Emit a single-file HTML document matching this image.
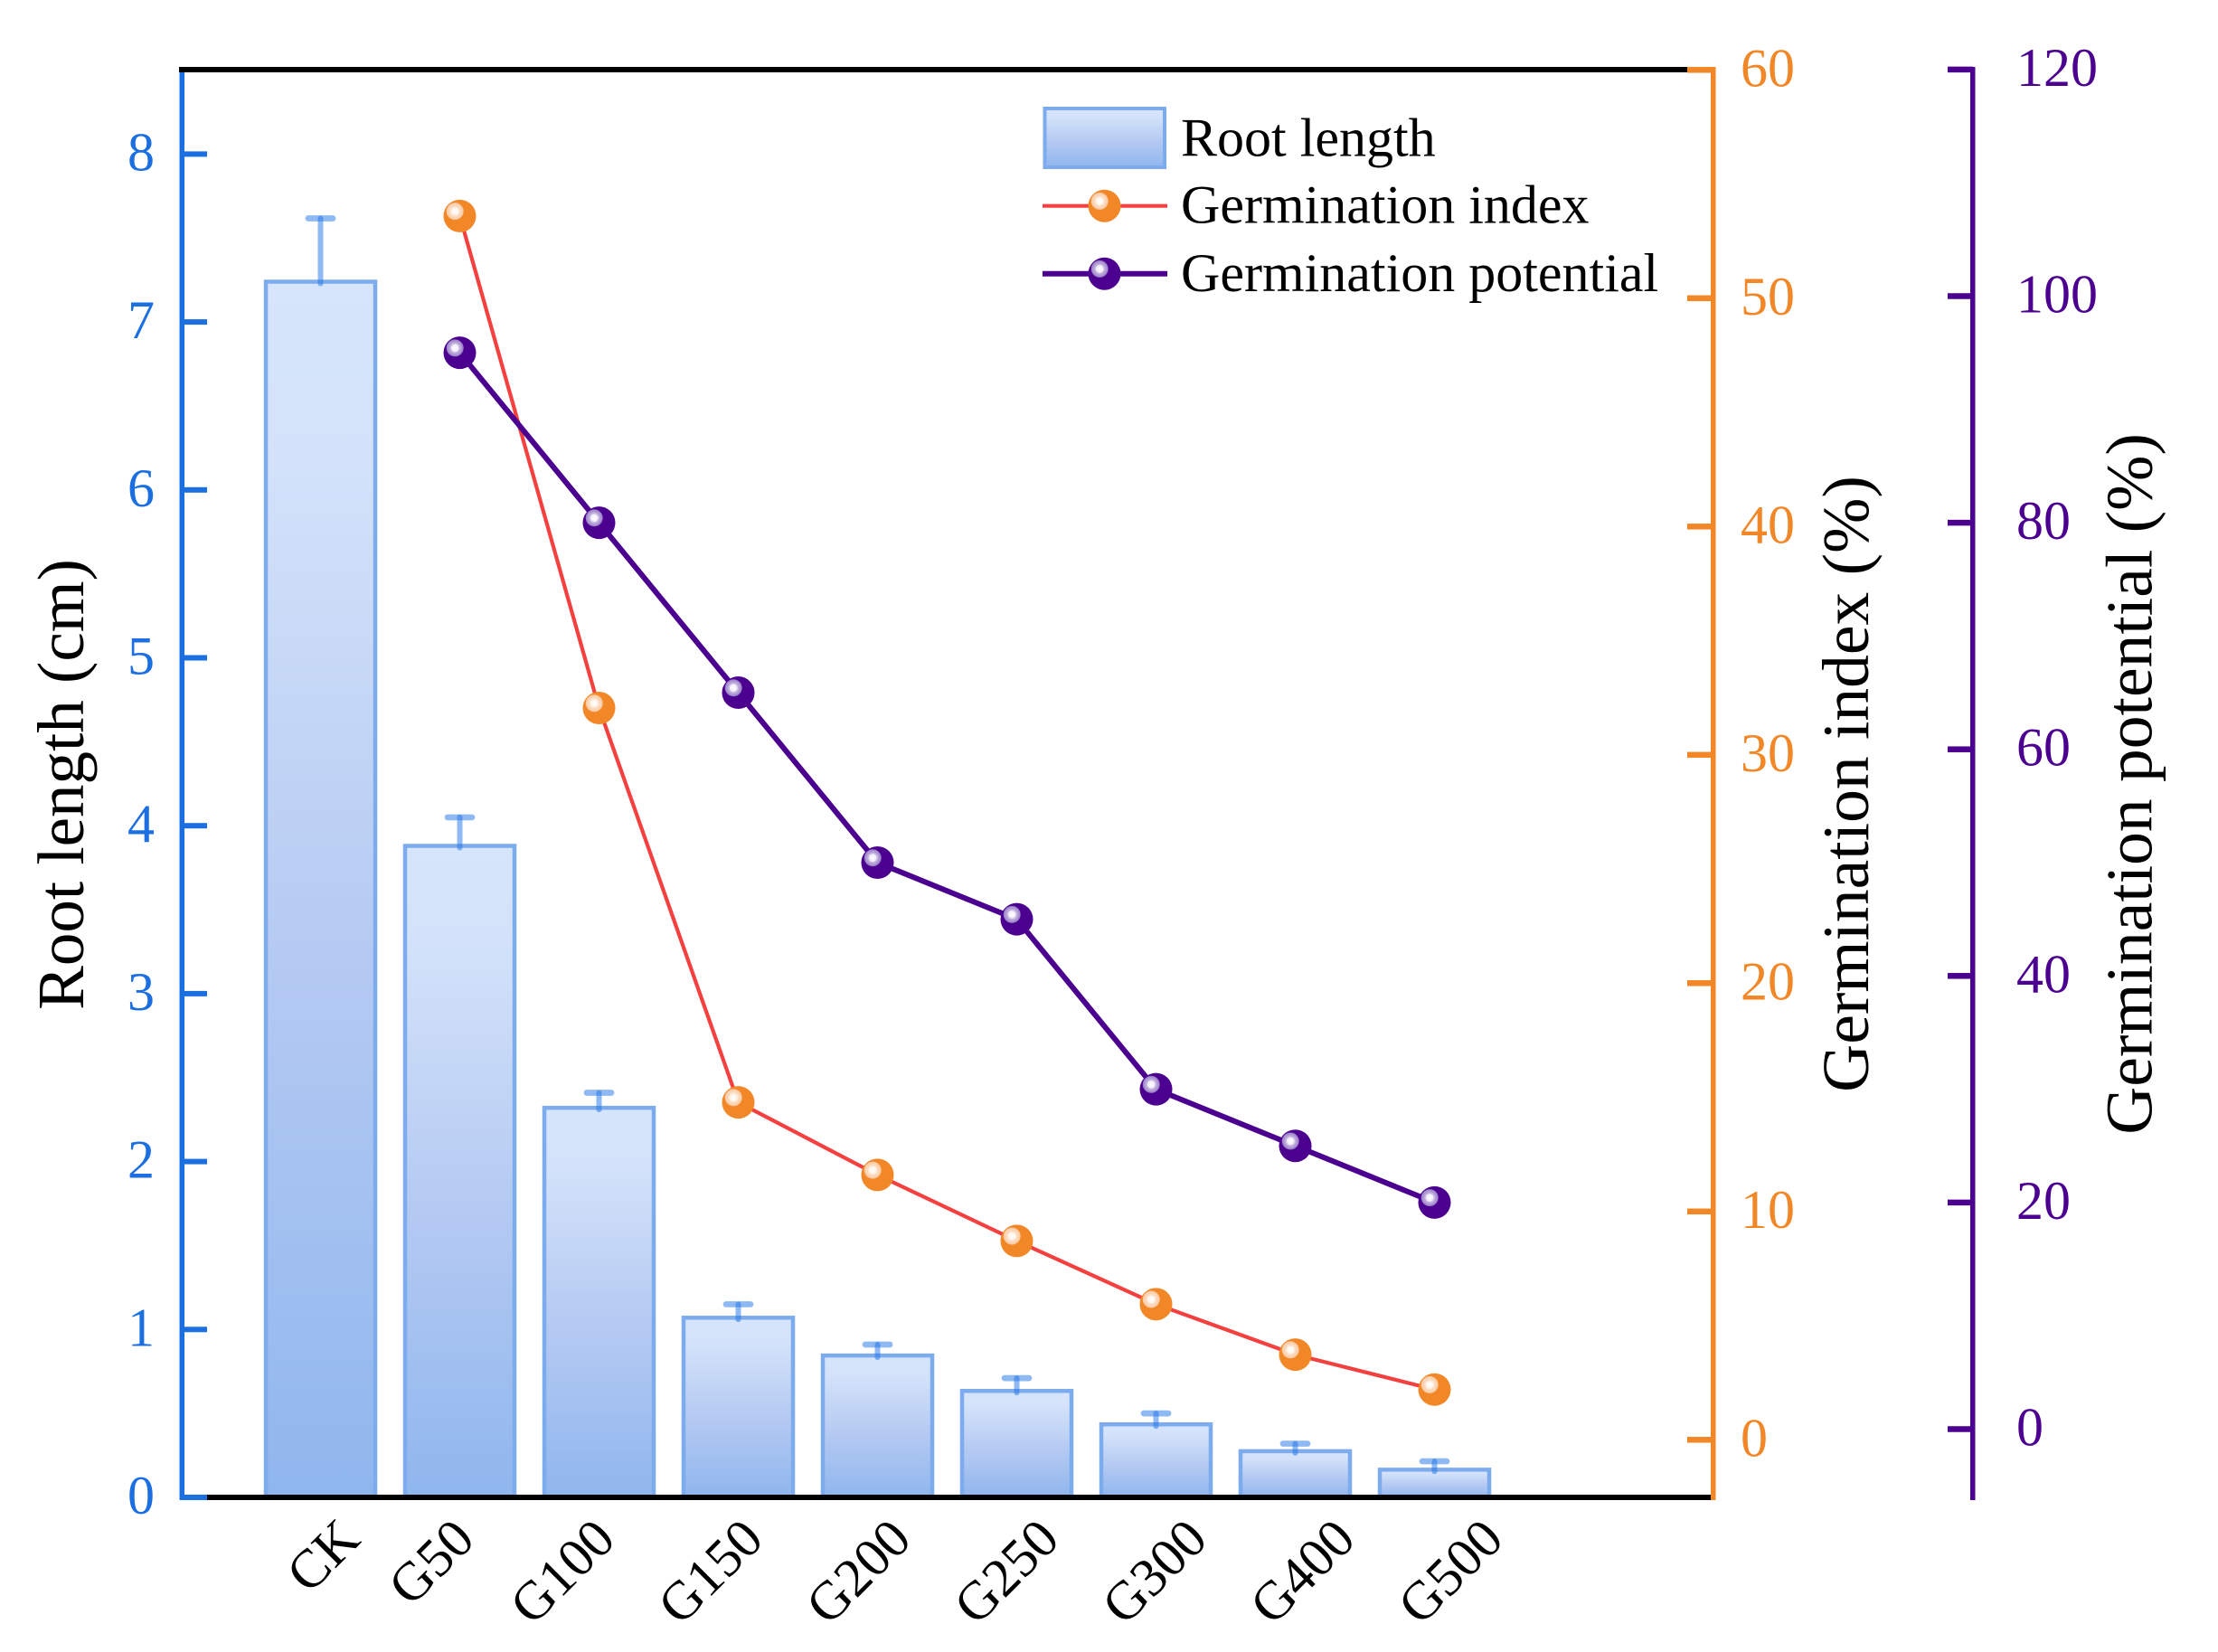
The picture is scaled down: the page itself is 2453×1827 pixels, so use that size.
<!DOCTYPE html>
<html lang="en">
<head>
<meta charset="utf-8">
<title>Root length and germination chart</title>
<style>
  html, body { margin: 0; padding: 0; background: #fff; }
  svg { display: block; }
  text { font-family: "Liberation Serif", serif; }
</style>
</head>
<body>
<svg id="chart" xmlns="http://www.w3.org/2000/svg" width="2453" height="1827" viewBox="0 0 2453 1827">
  <defs>
    <linearGradient id="barFill" x1="0" y1="0" x2="0" y2="1">
      <stop offset="0" stop-color="#d6e5fb"/>
      <stop offset="0.15" stop-color="#d3e2fa"/>
      <stop offset="0.55" stop-color="#b5caf2"/>
      <stop offset="1" stop-color="#8fb6ee"/>
    </linearGradient>
    <radialGradient id="ballOrange" cx="0.353" cy="0.353" r="0.27">
      <stop offset="0" stop-color="#ffffff"/>
      <stop offset="0.42" stop-color="#fff4ea"/>
      <stop offset="0.48" stop-color="#fde2ca"/>
      <stop offset="0.94" stop-color="#f9caa4"/>
      <stop offset="1" stop-color="#f28727"/>
    </radialGradient>
    <radialGradient id="ballPurple" cx="0.353" cy="0.353" r="0.27">
      <stop offset="0" stop-color="#ffffff"/>
      <stop offset="0.42" stop-color="#f0eaf7"/>
      <stop offset="0.48" stop-color="#c9b9e2"/>
      <stop offset="0.94" stop-color="#9a80c8"/>
      <stop offset="1" stop-color="#4b0090"/>
    </radialGradient>
  </defs>
  <g id="bars"></g>
  <g id="errors"></g>
  <g id="seriesIndex"></g>
  <g id="seriesPotential"></g>
  <g id="axes"></g>
  <g id="legend"></g>
  <text transform="translate(92,867.5) rotate(-90)" text-anchor="middle" font-size="73" fill="#000">Root length (cm)</text>
  <text transform="translate(2066,867) rotate(-90)" text-anchor="middle" font-size="73.5" fill="#000">Germination index (%)</text>
  <text transform="translate(2379.3,867) rotate(-90)" text-anchor="middle" font-size="73.5" fill="#000">Germination potential (%)</text>
</svg>
<script>
const categories = ["CK", "G50", "G100", "G150", "G200", "G250", "G300", "G400", "G500"];
const rootLength = [7.24, 3.88, 2.32, 1.07, 0.845, 0.634, 0.435, 0.275, 0.165];
const rootLengthUpper = [7.617, 4.05, 2.41, 1.15, 0.91, 0.71, 0.50, 0.32, 0.215];
const germinationIndex = [null, 53.6, 32.05, 14.78, 11.6, 8.71, 5.94, 3.73, 2.2];
const germinationPotential = [null, 95, 80, 65, 50, 45, 30, 25, 20];
const rootTicks = [0, 1, 2, 3, 4, 5, 6, 7, 8];
const indexTicks = [0, 10, 20, 30, 40, 50, 60];
const potentialTicks = [0, 20, 40, 60, 80, 100, 120];

const NS = "http://www.w3.org/2000/svg";
const BLUE = "#1c6fe0", ORANGE = "#f28727", PURPLE = "#4b0090", RED = "#f54040";
const BAR_STROKE = "#7dacee", ERR = "#1f73e6";
const PLOT_TOP = 77, PLOT_BOTTOM = 1656;

function xScale(i) { return 354.5 + 154 * i; }
function yRoot(v) { return 1656 - 185.7 * v; }
function yIndex(v) { return 1592.3 - 25.25 * v; }
function yPotential(v) { return 1580.5 - 12.53 * v; }

function make(tag, attrs, parent) {
  const el = document.createElementNS(NS, tag);
  for (const k in attrs) el.setAttribute(k, attrs[k]);
  parent.appendChild(el);
  return el;
}

const barsG = document.getElementById("bars");
const errG = document.getElementById("errors");
const axesG = document.getElementById("axes");
const legendG = document.getElementById("legend");

/* bars + error bars */
rootLength.forEach((v, i) => {
  const cx = xScale(i), top = yRoot(v), up = yRoot(rootLengthUpper[i]);
  const bar = make("rect", { x: cx - 60.5, y: top, width: 121, height: PLOT_BOTTOM - top, fill: "url(#barFill)", stroke: BAR_STROKE, "stroke-width": 4.5 }, barsG);
  
  
  const stem = make("line", { x1: cx, x2: cx, y1: top + 2, y2: up, stroke: ERR, "stroke-opacity": 0.5, "stroke-width": 6, "stroke-linecap": "round" }, errG);
  
  
  const cap = make("line", { x1: cx - 13.5, x2: cx + 13.5, y1: up, y2: up, stroke: ERR, "stroke-opacity": 0.5, "stroke-width": 6.7, "stroke-linecap": "round" }, errG);
  
  
});

/* line series */
function points(values, yFn) {
  const out = [];
  values.forEach((v, i) => { if (v !== null) out.push(xScale(i) + "," + yFn(v)); });
  return out.join(" ");
}
const indexG = document.getElementById("seriesIndex");
const indexLine = make("polyline", { points: points(germinationIndex, yIndex), fill: "none", stroke: RED, "stroke-width": 4.2, "stroke-linejoin": "round" }, indexG);


germinationIndex.forEach((v, i) => {
  if (v === null) return;
  const dot = make("circle", { cx: xScale(i), cy: yIndex(v), r: 18, fill: "url(#ballOrange)" }, indexG);
  
  
});
const potG = document.getElementById("seriesPotential");
const potLine = make("polyline", { points: points(germinationPotential, yPotential), fill: "none", stroke: PURPLE, "stroke-width": 6, "stroke-linejoin": "round" }, potG);


germinationPotential.forEach((v, i) => {
  if (v === null) return;
  const dot = make("circle", { cx: xScale(i), cy: yPotential(v), r: 18, fill: "url(#ballPurple)" }, potG);
  
  
});

/* axis frame */
const leftAxis = make("rect", { x: 198.5, y: 77, width: 5.5, height: 1582, fill: BLUE }, axesG);


const topAxis = make("rect", { x: 198, y: 74, width: 1668, height: 6, fill: "#000" }, axesG);


const bottomAxis = make("rect", { x: 229, y: 1653, width: 1663, height: 6, fill: "#000" }, axesG);


const indexAxis = make("rect", { x: 1892, y: 74, width: 5.5, height: 1585, fill: ORANGE }, axesG);


const potentialAxis = make("rect", { x: 2179, y: 74, width: 5.5, height: 1585, fill: PURPLE }, axesG);



/* root length ticks */
rootTicks.forEach(v => {
  const y = yRoot(v);
  const t = make("rect", { x: 199, y: y - 3, width: 30, height: 6, fill: BLUE }, axesG);
  
  
  const l = make("text", { x: 171, y: y + 18, "text-anchor": "end", "font-size": 60, fill: BLUE }, axesG);
  l.textContent = v;
  
  
});
/* germination index ticks */
indexTicks.forEach(v => {
  const y = yIndex(v);
  const t = make("rect", { x: 1866, y: y - 3.25, width: 28, height: 6.5, fill: ORANGE }, axesG);
  
  
  const l = make("text", { x: 1925, y: y + 18, "text-anchor": "start", "font-size": 60, fill: ORANGE }, axesG);
  l.textContent = v;
  
  
});
/* germination potential ticks */
potentialTicks.forEach(v => {
  const y = yPotential(v);
  const t = make("rect", { x: 2154, y: y - 3.25, width: 28, height: 6.5, fill: PURPLE }, axesG);
  
  
  const l = make("text", { x: 2230, y: y + 18, "text-anchor": "start", "font-size": 60, fill: PURPLE }, axesG);
  l.textContent = v;
  
  
});
/* category labels */
function labelNudge(name) { return name.length === 2 ? 45 : name.length === 3 ? 8 : 0; }
categories.forEach((c, i) => {
  const xe = 683 + 163.7 * (i - 2) + labelNudge(c);
  const l = make("text", { transform: "translate(" + xe + ",1705) rotate(-45)", "text-anchor": "end", "font-size": 60, fill: "#000" }, axesG);
  l.textContent = c;
  
  
});

/* legend */
const swatch = make("rect", { x: 1155.5, y: 120, width: 132.5, height: 65, fill: "url(#barFill)", stroke: BAR_STROKE, "stroke-width": 4 }, legendG);


const txt1 = make("text", { x: 1306, y: 172.7, "font-size": 60, fill: "#000" }, legendG);
txt1.textContent = "Root length";


const line2 = make("line", { x1: 1153, x2: 1291, y1: 227.7, y2: 227.7, stroke: RED, "stroke-width": 4.2 }, legendG);


const dot2 = make("circle", { cx: 1221.5, cy: 227.7, r: 18, fill: "url(#ballOrange)" }, legendG);


const txt2 = make("text", { x: 1306, y: 246.7, "font-size": 60, fill: "#000" }, legendG);
txt2.textContent = "Germination index";


const line3 = make("line", { x1: 1153, x2: 1291, y1: 302.7, y2: 302.7, stroke: PURPLE, "stroke-width": 6 }, legendG);


const dot3 = make("circle", { cx: 1221.5, cy: 302.7, r: 18, fill: "url(#ballPurple)" }, legendG);


const txt3 = make("text", { x: 1306, y: 322, "font-size": 60, fill: "#000" }, legendG);
txt3.textContent = "Germination potential";


</script>
</body>
</html>
